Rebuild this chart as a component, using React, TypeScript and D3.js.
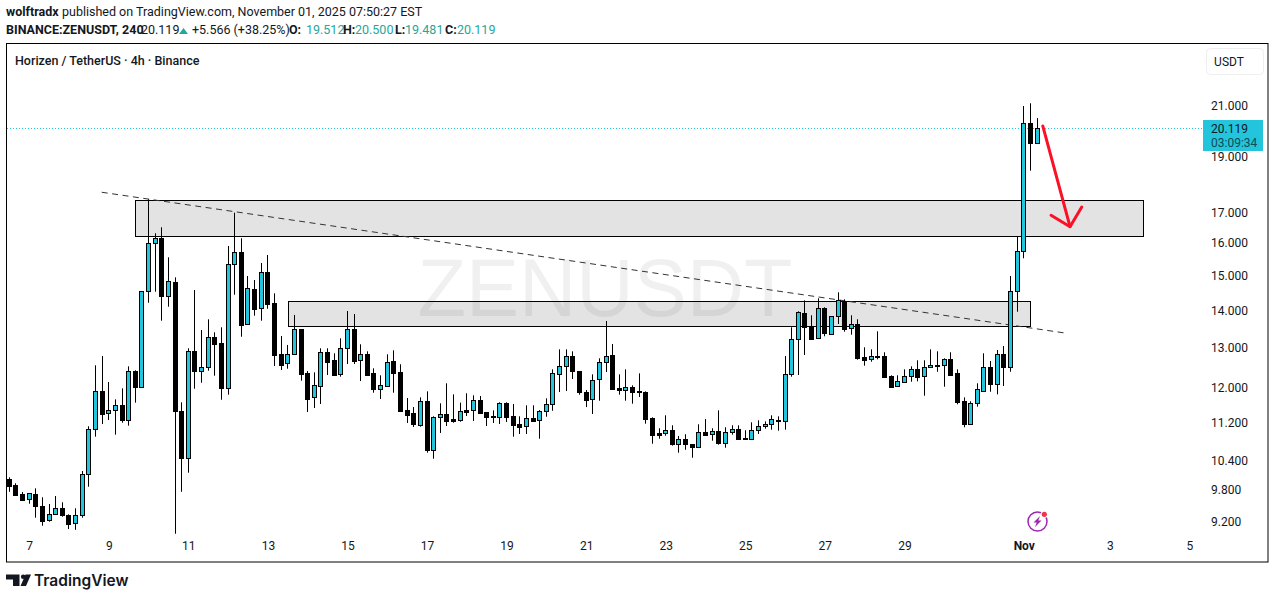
import React, { useEffect, useRef } from 'react';
import * as d3 from 'd3';

// 4h candles. Index 3 is Oct 7 00:00, index 153 is Nov 1 00:00
const opens = [
  10.013, 9.895, 9.725, 9.623, 9.719, 9.491, 9.231, 9.341, 9.453, 9.323,
  9.176, 9.323, 10.113, 11.057, 11.923, 11.414, 11.481, 11.597, 11.256, 12.405,
  12.032, 14.540, 15.993, 16.153, 14.413, 14.802, 11.459, 10.451, 12.908, 12.420,
  12.505, 13.272, 13.115, 12.008, 15.340, 15.710, 13.635, 14.597, 14.058, 15.098,
  14.198, 12.832, 12.605, 12.832, 13.484, 12.364, 11.782, 12.056, 12.883, 12.687,
  12.332, 12.985, 13.484, 12.680, 12.832, 12.356, 11.984, 12.042, 12.655, 12.381,
  11.481, 11.414, 11.159, 11.689, 10.618, 11.324, 11.391, 11.279, 11.256, 11.481,
  11.481, 11.712, 11.436, 11.346, 11.324, 11.643, 11.346, 11.168, 11.124, 11.301,
  11.256, 11.459, 11.620, 12.332, 12.529, 12.781, 12.405, 11.899, 11.735, 12.210,
  12.630, 12.806, 11.994, 11.946, 12.018, 11.923, 11.899, 11.301, 10.970, 10.970,
  11.036, 10.746, 10.840, 10.733, 10.682, 10.992, 10.949, 11.014, 10.767, 10.992,
  11.057, 10.862, 10.853, 11.036, 11.124, 11.168, 11.256, 11.234, 12.332, 13.219,
  13.919, 13.565, 13.245, 14.058, 13.351, 13.837, 14.270, 13.511, 13.619, 12.756,
  12.705, 12.781, 12.781, 12.283, 12.042, 12.138, 12.283, 12.455, 12.283, 12.505,
  12.555, 12.555, 12.705, 12.356, 11.689, 11.168, 11.643, 11.937, 12.505, 12.090,
  12.832, 12.505, 14.540, 15.741, 20.293, 19.512,
];
const highs = [
  10.053, 9.934, 9.764, 9.739, 9.835, 9.662, 9.534, 9.687, 9.567, 9.341,
  9.453, 10.179, 11.124, 12.555, 12.789, 12.145, 11.735, 11.994, 12.529, 12.430,
  14.540, 17.452, 16.314, 16.509, 15.555, 14.949, 11.666, 12.985, 14.577, 13.465,
  13.754, 13.404, 13.538, 15.908, 16.994, 16.153, 14.988, 14.869, 15.380, 15.626,
  14.482, 13.306, 13.071, 13.873, 13.484, 12.413, 12.381, 12.985, 12.985, 12.857,
  13.245, 13.982, 13.900, 13.089, 12.908, 12.480, 12.308, 12.832, 12.933, 12.580,
  11.766, 11.557, 11.782, 11.923, 11.346, 11.643, 12.114, 11.852, 11.657, 11.876,
  11.829, 11.813, 11.443, 11.481, 11.666, 11.666, 11.627, 11.346, 11.597, 11.597,
  11.488, 11.759, 12.455, 12.959, 12.959, 12.908, 12.405, 11.953, 12.332, 12.730,
  13.708, 13.096, 12.332, 12.455, 12.065, 12.356, 11.923, 11.324, 11.080, 11.369,
  11.146, 10.912, 10.949, 10.740, 11.168, 11.285, 11.080, 11.481, 11.102, 11.146,
  11.146, 11.036, 11.212, 11.256, 11.234, 11.369, 11.346, 12.789, 13.538, 13.974,
  14.282, 13.864, 14.339, 14.086, 13.837, 14.511, 14.310, 13.864, 13.754, 13.011,
  12.959, 13.431, 12.883, 12.308, 12.308, 12.455, 12.529, 12.680, 12.680, 12.959,
  12.908, 12.730, 12.883, 12.455, 11.782, 11.689, 12.114, 12.857, 12.662, 12.941,
  13.045, 14.988, 16.204, 21.000, 21.113, 20.500,
];
const lows = [
  9.769, 9.712, 9.591, 9.540, 9.279, 9.132, 9.205, 9.341, 9.297, 9.072,
  9.059, 9.279, 9.867, 10.897, 11.175, 11.263, 10.940, 11.203, 11.137, 11.657,
  12.008, 14.214, 14.528, 13.716, 14.102, 8.988, 9.769, 10.145, 11.984, 12.128,
  12.420, 12.298, 11.725, 11.843, 14.442, 13.287, 13.608, 13.853, 13.716, 14.046,
  12.537, 12.437, 12.470, 12.832, 12.176, 11.443, 11.534, 11.627, 12.315, 12.322,
  12.274, 12.587, 12.587, 12.169, 12.322, 11.890, 11.742, 12.042, 11.890, 11.472,
  11.197, 11.108, 11.115, 10.556, 10.430, 10.977, 11.130, 11.203, 11.225, 11.353,
  11.241, 11.398, 11.130, 11.197, 11.175, 11.219, 10.897, 10.955, 10.955, 11.219,
  10.853, 11.337, 11.472, 11.906, 11.930, 12.217, 11.843, 11.557, 11.398, 11.703,
  12.388, 11.984, 11.843, 11.703, 11.634, 11.789, 11.181, 10.746, 10.853, 10.918,
  10.704, 10.556, 10.618, 10.451, 10.661, 10.918, 10.810, 10.725, 10.661, 10.940,
  10.853, 10.832, 10.853, 10.955, 11.071, 11.049, 11.027, 11.049, 12.274, 12.315,
  12.814, 13.234, 13.245, 13.298, 13.351, 13.627, 13.420, 13.340, 12.695, 12.545,
  12.645, 12.705, 12.249, 12.008, 12.042, 12.138, 12.152, 12.162, 11.820, 12.505,
  12.395, 12.032, 12.322, 11.620, 11.102, 11.168, 11.565, 11.913, 11.913, 11.852,
  12.049, 12.395, 13.963, 15.524, 18.470, 19.481,
];
const closes = [
  9.887, 9.712, 9.610, 9.739, 9.491, 9.223, 9.341, 9.453, 9.323, 9.169,
  9.323, 10.113, 11.057, 11.923, 11.391, 11.481, 11.597, 11.256, 12.405, 12.032,
  14.540, 15.993, 16.153, 14.413, 14.831, 11.459, 10.451, 12.908, 12.420, 12.505,
  13.272, 13.104, 12.008, 15.340, 15.710, 13.608, 14.627, 14.046, 15.098, 14.186,
  12.822, 12.570, 12.832, 13.484, 12.347, 11.749, 12.065, 12.883, 12.645, 12.322,
  12.985, 13.484, 12.670, 12.832, 12.322, 11.984, 12.065, 12.630, 12.371, 11.472,
  11.382, 11.181, 11.689, 10.618, 11.324, 11.391, 11.248, 11.248, 11.459, 11.443,
  11.712, 11.427, 11.337, 11.330, 11.643, 11.337, 11.159, 11.115, 11.301, 11.248,
  11.459, 11.620, 12.356, 12.529, 12.781, 12.405, 11.913, 11.725, 12.186, 12.630,
  12.781, 11.984, 11.960, 12.018, 11.913, 11.899, 11.292, 10.940, 10.940, 11.036,
  10.746, 10.840, 10.733, 10.682, 10.992, 10.940, 11.014, 10.767, 10.992, 11.057,
  10.853, 10.853, 11.036, 11.124, 11.168, 11.279, 11.234, 12.332, 13.219, 13.947,
  13.538, 13.234, 14.058, 13.378, 13.837, 14.282, 13.500, 13.619, 12.746, 12.695,
  12.781, 12.771, 12.274, 12.032, 12.162, 12.283, 12.455, 12.274, 12.505, 12.555,
  12.537, 12.705, 12.322, 11.680, 11.168, 11.643, 11.970, 12.505, 12.090, 12.832,
  12.505, 14.540, 15.741, 20.293, 19.503, 20.119,
];

const priceTicks = [21, 19, 17, 16, 15, 14, 13, 12, 11.2, 10.4, 9.8, 9.2];
const timeTickBars = [3, 15, 27, 39, 51, 63, 75, 87, 99, 111, 123, 135, 153, 166, 178];
const timeTickLabels = ['7', '9', '11', '13', '15', '17', '19', '21', '23', '25', '27', '29', 'Nov', '3', '5'];

// drawings, in bar index / price
const zoneBars = [[19, 171], [42.1, 154]];
const zonePrices = [[17.41, 16.211], [14.276, 13.56]];
const trendBars = [13.94, 159.2];
const trendPrices = [17.697, 13.386];
const arrowStemBars = [155.87, 159.98];
const arrowStemPrices = [20.184, 16.529];
const arrowHeadBars = [157.12, 159.98, 161.75];
const arrowHeadPrices = [16.907, 16.529, 17.188];
const lastPrice = 20.119;

const UP = '#22c5dc';
const TEAL = '#26a69a';
const INK = '#131722';
const FONT = 'Roboto, sans-serif';

const App: React.FC = () => {
  const svgRef = useRef<SVGSVGElement | null>(null);

  useEffect(() => {
    const svg = d3.select(svgRef.current);
    svg.selectAll('*').remove();
    svg.style('font-family', FONT);

    const x = d3.scaleLinear().domain([0, 155]).range([9.3, 1037]);
    const y = d3.scaleLog().domain([21, 9.2]).range([106, 522]);
    const px = (i: number) => Math.floor(x(i)) + 0.5;
    const py = (p: number) => Math.round(y(p)) + 0.5;

    // page header
    const header = svg.append('g').attr('font-size', 12.5).attr('fill', INK);
    const texts: [number, number, string, number, string][] = [
      [6, 16, 'wolftradx', 700, INK],
      [62, 16, 'published on TradingView.com, November 01, 2025 07:50:27 EST', 400, INK],
      [6, 34, 'BINANCE:ZENUSDT, 240', 700, INK],
      [141, 34, '20.119', 400, INK],
      [192, 34, '+5.566 (+38.25%)', 400, INK],
      [289, 34, 'O:', 700, INK],
      [306, 34, '19.512', 400, TEAL],
      [343, 34, 'H:', 700, INK],
      [355, 34, '20.500', 400, TEAL],
      [395, 34, 'L:', 700, INK],
      [405, 34, '19.481', 400, TEAL],
      [445, 34, 'C:', 700, INK],
      [457, 34, '20.119', 400, TEAL],
    ];
    header.selectAll('text').data(texts).join('text')
      .attr('x', d => d[0])
      .attr('y', d => d[1])
      .attr('font-weight', d => d[3])
      .attr('fill', d => d[4])
      .text(d => d[2]);
    header.append('path').attr('d', 'M179,34 L183.5,28 L188,34 Z').attr('fill', TEAL);

    // frame
    svg.append('rect')
      .attr('x', 6.5).attr('y', 43.5).attr('width', 1261.5).attr('height', 518.5)
      .attr('fill', '#fff').attr('stroke', '#000').attr('stroke-width', 1);

    svg.append('text')
      .attr('x', 15).attr('y', 64.5)
      .attr('font-size', 12.5).attr('font-weight', 500).attr('fill', INK)
      .text('Horizen / TetherUS · 4h · Binance');

    // zones
    svg.append('g').selectAll('rect').data(zoneBars).join('rect')
      .attr('x', d => Math.floor(x(d[0])) + 0.5)
      .attr('width', d => Math.round(x(d[1]) - x(d[0])))
      .attr('y', (_, i) => py(zonePrices[i][0]))
      .attr('height', (_, i) => py(zonePrices[i][1]) - py(zonePrices[i][0]))
      .attr('fill', '#e3e3e3')
      .attr('stroke', '#000')
      .attr('stroke-width', 1);

    // watermark
    svg.append('text')
      .attr('x', 605).attr('y', 316)
      .attr('text-anchor', 'middle')
      .attr('font-family', 'Liberation Sans, Arial, sans-serif')
      .attr('font-size', 82)
      .attr('textLength', 375)
      .attr('lengthAdjust', 'spacingAndGlyphs')
      .attr('fill', 'rgba(0,0,0,0.06)')
      .text('ZENUSDT');

    // last price line
    svg.append('line')
      .attr('x1', 7).attr('x2', 1203)
      .attr('y1', py(lastPrice)).attr('y2', py(lastPrice))
      .attr('stroke', UP).attr('stroke-width', 1).attr('stroke-dasharray', '1 2');

    // trend line
    svg.append('line')
      .attr('x1', x(trendBars[0])).attr('x2', x(trendBars[1]))
      .attr('y1', y(trendPrices[0])).attr('y2', y(trendPrices[1]))
      .attr('stroke', '#333').attr('stroke-width', 1).attr('stroke-dasharray', '6 4.5');

    // candles
    const bars = d3.range(opens.length);
    const candles = svg.append('g').selectAll('g').data(bars).join('g');
    candles.append('line')
      .attr('x1', px).attr('x2', px)
      .attr('y1', i => y(highs[i])).attr('y2', i => y(lows[i]))
      .attr('stroke', '#000').attr('stroke-width', 1);
    candles.append('rect')
      .attr('x', i => px(i) - 2)
      .attr('width', 4)
      .attr('y', i => py(Math.max(opens[i], closes[i])))
      .attr('height', i => Math.max(1, py(Math.min(opens[i], closes[i])) - py(Math.max(opens[i], closes[i]))))
      .attr('fill', i => (closes[i] >= opens[i] ? UP : '#000'))
      .attr('stroke', '#000')
      .attr('stroke-width', 1);

    // red arrow
    const arrow = svg.append('g')
      .attr('fill', 'none').attr('stroke', '#fb1026').attr('stroke-width', 3)
      .attr('stroke-linecap', 'round').attr('stroke-linejoin', 'round');
    const lineGen = d3.line<number>().x(d => d[0]).y(d => d[1]);
    arrow.append('path').attr('d', lineGen(arrowStemBars.map((b, i) => [x(b), y(arrowStemPrices[i])] as any)));
    arrow.append('path').attr('d', lineGen(arrowHeadBars.map((b, i) => [x(b), y(arrowHeadPrices[i])] as any)));

    // price axis
    const yAxis = svg.append('g')
      .attr('transform', 'translate(1211,0)')
      .call(d3.axisRight(y).tickValues(priceTicks).tickFormat(d3.format('.3f')).tickSize(0).tickPadding(0));
    yAxis.select('.domain').remove();
    yAxis.selectAll('text').attr('font-size', 12).attr('font-family', FONT).attr('fill', INK);

    // time axis
    const xAxis = svg.append('g')
      .attr('transform', 'translate(0,541)')
      .call(d3.axisBottom(x).tickValues(timeTickBars)
        .tickFormat((_, i) => timeTickLabels[i]).tickSize(0).tickPadding(0));
    xAxis.select('.domain').remove();
    xAxis.selectAll('text')
      .attr('font-size', 12).attr('font-family', FONT).attr('fill', INK)
      .attr('font-weight', (_, i) => (timeTickLabels[i] === 'Nov' ? 700 : 400));

    // last price tag
    svg.append('rect')
      .attr('x', 1203).attr('y', 120).attr('width', 60).attr('height', 31)
      .attr('fill', UP);
    svg.append('text').attr('x', 1211).attr('y', 132.5)
      .attr('font-size', 12).attr('fill', INK).text(d3.format('.3f')(lastPrice));
    svg.append('text').attr('x', 1211).attr('y', 147)
      .attr('font-size', 12).attr('fill', '#134a55').text('03:09:34');

    // currency button
    svg.append('rect')
      .attr('x', 1206.5).attr('y', 48.5).attr('width', 57).attr('height', 26).attr('rx', 4)
      .attr('fill', '#fff').attr('stroke', '#eeeeee');
    svg.append('text').attr('x', 1229).attr('y', 65.5)
      .attr('text-anchor', 'middle').attr('font-size', 12).attr('fill', INK).text('USDT');

    // news icon
    const icon = svg.append('g').attr('transform', 'translate(1037.5,521.5)');
    icon.append('circle').attr('r', 9.5).attr('fill', 'none').attr('stroke', '#9c27b0').attr('stroke-width', 1.5);
    icon.append('path').attr('d', 'M2.5,-5.5 L-4,1 L-0.8,1 L-2.5,5.5 L4,-1 L0.8,-1 Z').attr('fill', '#9c27b0');
    icon.append('circle').attr('cx', 6.8).attr('cy', -7.2).attr('r', 3.6).attr('fill', '#fff');
    icon.append('circle').attr('cx', 6.8).attr('cy', -7.2).attr('r', 2.6).attr('fill', '#f23645');

    // logo
    const logo = svg.append('g').attr('fill', INK);
    logo.append('path').attr('d', 'M6,574.5 H19.5 V586 H13 V579.5 H6 Z');
    logo.append('circle').attr('cx', 23.2).attr('cy', 576.8).attr('r', 2.3);
    logo.append('path').attr('d', 'M25.5,574.5 H31 L26,586 H20.5 Z');
    logo.append('text')
      .attr('x', 34).attr('y', 586)
      .attr('font-family', 'Inter, sans-serif')
      .attr('font-size', 15.5).attr('font-weight', 600)
      .text('TradingView');
  }, []);

  return (
    <svg
      ref={svgRef}
      width={1275}
      height={599}
      style={{ position: 'absolute', left: 0, top: 0, display: 'block' }}
    />
  );
};

export default App;
